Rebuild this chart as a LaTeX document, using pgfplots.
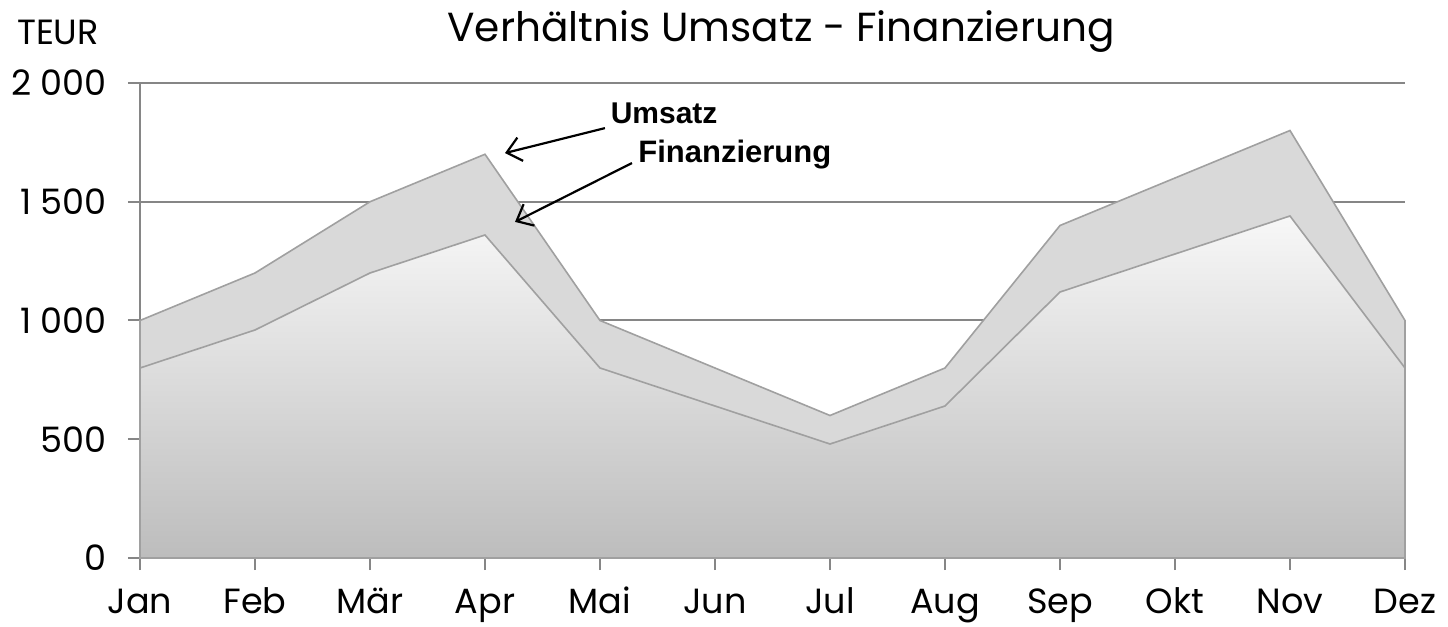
\documentclass[border=0pt]{standalone}
\usepackage{pgfplots}
\pgfplotsset{compat=1.18}
\usepackage{fontspec}
\setmainfont{Poppins}
\newfontfamily\lab{Liberation Sans}
\usetikzlibrary{arrows.meta}
\definecolor{gridc}{RGB}{134,134,134}
\definecolor{umsfill}{RGB}{217,217,217}
\definecolor{edgec}{RGB}{160,160,160}
\pgfplotstableread{
x u f
0 1000 800
1 1200 960
2 1500 1200
3 1700 1360
4 1000 800
5 800 640
6 600 480
7 800 640
8 1400 1120
9 1600 1280
10 1800 1440
11 1000 800
}\data
\begin{document}
\begin{tikzpicture}
\begin{axis}[
  scale only axis,
  width=632.5pt, height=237.5pt,
  xmin=0, xmax=11, ymin=0, ymax=2000,
  axis lines=left,
  axis line style={-, gridc, line width=1pt},
  xtick={0,...,11},
  xticklabels={Jan,Feb,Mär,Apr,Mai,Jun,Jul,Aug,Sep,Okt,Nov,Dez},
  ytick={0,500,1000,1500,2000},
  yticklabels={0,500,1 000,1 500,2 000},
  ymajorgrids,
  grid style={gridc, line width=1pt},
  tick style={gridc, line width=1pt},
  tick align=outside,
  major tick length=6pt,
  xticklabel style={font=\fontsize{17.5}{20}\selectfont, text height=12.5pt, text depth=3pt, yshift=-5.5pt},
  yticklabel style={font=\fontsize{17.5}{20}\selectfont, xshift=-7pt},
  clip=false,
]
\addplot[draw=edgec, line width=0.8pt, fill=umsfill] table[x=x,y=u]{\data} \closedcycle;
\addplot[draw=edgec, line width=0.8pt, top color=white!97!black, bottom color=white!74!black] table[x=x,y=f]{\data} \closedcycle;
\draw[-{Straight Barb[length=7pt,width=12pt]}, line width=1.1pt] (axis cs:4.043,1810) -- (axis cs:3.174,1705);
\draw[-{Straight Barb[length=7pt,width=12pt]}, line width=1.1pt] (axis cs:4.278,1663) -- (axis cs:3.261,1415);
\node[anchor=west, font=\lab\bfseries\fontsize{15}{18}\selectfont, inner sep=0pt] at (axis cs:4.09,1874) {Umsatz};
\node[anchor=west, font=\lab\bfseries\fontsize{15.5}{18}\selectfont, inner sep=0pt] at (axis cs:4.33,1697) {Finanzierung};
\end{axis}
\path[use as bounding box] ([xshift=-70pt,yshift=-34.5pt]current axis.south west) rectangle ([xshift=654pt,yshift=279pt]current axis.south west);
\node[font=\fontsize{20.3}{24}\selectfont] at ([xshift=320.5pt,yshift=263pt]current axis.south west) {Verhältnis Umsatz - Finanzierung};
\node[font=\fontsize{17.5}{20}\selectfont] at ([xshift=-41pt,yshift=263pt]current axis.south west) {TEUR};
\end{tikzpicture}
\end{document}
